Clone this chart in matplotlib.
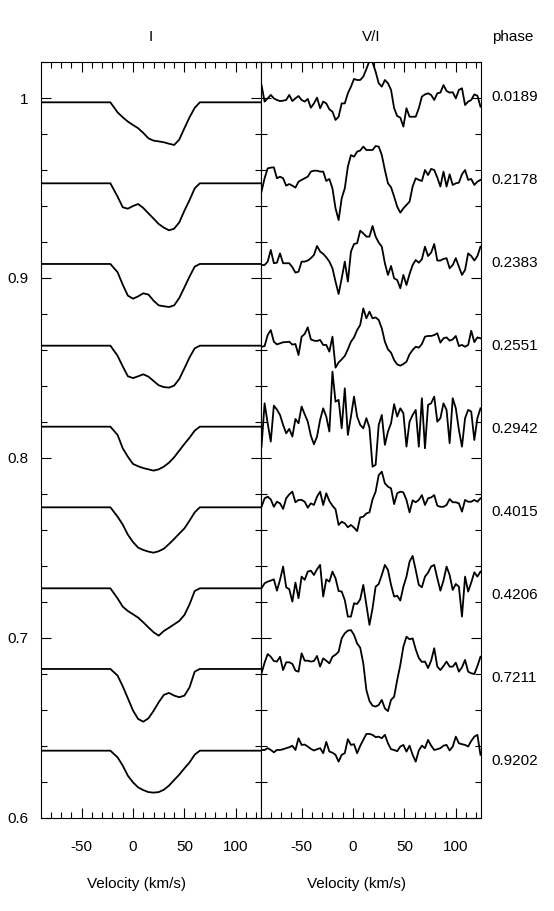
import numpy as np
import matplotlib
matplotlib.use("Agg")
import matplotlib.pyplot as plt
from matplotlib.ticker import MultipleLocator, FuncFormatter

plt.rcParams['font.family'] = ['Liberation Sans', 'DejaVu Sans']
plt.rcParams['font.size'] = 11
plt.rcParams['axes.unicode_minus'] = False

phases = ['0.0189', '0.2178', '0.2383', '0.2551', '0.2942',
          '0.4015', '0.4206', '0.7211', '0.9202']

# continuum level of each stacked profile
i_offset = [0.9976, 0.9526, 0.9078, 0.8624, 0.8174, 0.7726, 0.7276, 0.6828, 0.6374]
vi_offset = [0.9989, 0.9539, 0.9091, 0.8637, 0.8193, 0.7748, 0.7304, 0.6850, 0.6382]

# Stokes I profiles (I/Ic)
v_i = [-89, -60, -30, -22, -15, -10, -5, 0, 5, 10, 15, 20,
       25, 30, 35, 40, 45, 50, 55, 60, 65, 90, 124]
i_0189 = [1, 1, 1, 1, .9944, .9917, .9893, .9874, .9856, .9830, .9800, .9787,
          .9783, .9778, .9770, .9763, .9793, .9856, .9917, .9969, 1, 1, 1]
i_2178 = [1, 1, 1, 1, .9926, .9867, .9859, .9874, .9885, .9863, .9833, .9804,
          .9774, .9754, .9739, .9748, .9783, .9848, .9907, .9972, 1, 1, 1]
i_2383 = [1, 1, 1, 1, .9954, .9885, .9824, .9807, .9820, .9837, .9830, .9796,
          .9770, .9765, .9761, .9770, .9811, .9870, .9930, .9985, 1, 1, 1]
i_2551 = [1, 1, 1, 1, .9944, .9885, .9830, .9820, .9830, .9841, .9828, .9804,
          .9780, .9770, .9767, .9778, .9815, .9874, .9935, .9985, 1, 1, 1]
i_2942 = [1, 1, 1, 1, .9954, .9880, .9833, .9793, .9780, .9770, .9763, .9756,
          .9763, .9778, .9800, .9830, .9867, .9904, .9939, .9978, 1, 1, 1]
i_4015 = [1, 1, 1, 1, .9948, .9904, .9848, .9807, .9776, .9763, .9754, .9748,
          .9756, .9770, .9796, .9824, .9854, .9883, .9926, .9972, 1, 1, 1]
i_4206 = [1, 1, 1, 1, .9944, .9898, .9874, .9856, .9837, .9811, .9783, .9756,
          .9737, .9763, .9781, .9800, .9819, .9852, .9911, .9985, 1, 1, 1]
i_7211 = [1, 1, 1, 1, .9963, .9904, .9837, .9769, .9722, .9707, .9726, .9767,
          .9815, .9856, .9867, .9852, .9843, .9852, .9898, .9985, 1, 1, 1]
i_9202 = [1, 1, 1, 1, .9963, .9917, .9861, .9824, .9796, .9781, .9770, .9767,
          .9770, .9783, .9806, .9837, .9867, .9902, .9935, .9978, 1, 1, 1]

# Stokes V/I profiles, units of 1e-3, on a 3 km/s grid from -89 to 124
v_vi = np.arange(-89, 125, 3)
vi_0189 = [8.3, -0.9, 0.9, 2.8, 0.9, 0, -0.6, -0.4, 0, 2.8, -0.6, 0.9,
           2.2, 0, -0.9, 0.6, -4.3, -1.9, 1.3, -4.6, -0.9, -1.9, -5.2, -6.5,
           -11.1, -9.3, -1.9, -1.9, 3.7, 7.4, 11.7, 11.1, 11.1, 13.0, 17.2, 21.7,
           20.9, 15.7, 9.3, 7.4, 11.1, 9.3, 5.6, -4.6, -8.9, -9.8, -14.8, -4.6,
           -9.3, -9.3, -9.3, -4.6, 1.9, 3.1, 3.7, 2.8, 0, 3.7, 4.1, 8.3,
           5.0, 4.1, 4.3, 0.9, 5.6, 6.5, -2.8, -0.9, 0, 3.1, 2.4, -3.7]
vi_2178 = [-5.9, 1.5, 7.0, 7.4, 7.6, 1.5, 2.4, 1.5, -2.6, -1.7, -2.6, -3.7,
           -0.4, 0.6, 1.5, 2.4, 5.2, 5.7, 5.7, 5.2, 5.2, 0, 1.1, -4.1,
           -15.2, -21.7, -9.6, -4.1, 8.0, 14.4, 13.5, 16.3, 16.9, 19.1, 17.2, 17.2,
           17.2, 19.4, 19.1, 14.4, 6.1, -1.3, -3.5, -8.7, -14.3, -17.6, -15.2, -13.3,
           -11.5, -3.1, 1.5, 0.6, 0, 6.1, 3.3, 6.7, 6.1, 1.9, -3.1, 5.2,
           -3.1, 3.7, -2.2, -1.3, -0.9, 3.7, 6.1, 0.6, 1.1, -2.2, -0.4, 0.6]
vi_2383 = [-1.9, -1.9, 0, 6.5, -0.9, -0.6, 4.6, -0.9, -0.9, -0.9, -3.1, -6.1,
           -5.6, 0, 0, 0.6, 1.9, 3.7, 8.7, 5.6, 4.3, 2.4, 0, -3.7,
           -11.1, -18.0, -9.3, 0, -11.1, 5.6, 9.8, 10.2, 17.2, 15.7, 13.9, 13.9,
           19.8, 13.9, 10.6, 8.3, -0.9, -7.4, -2.4, -9.3, -10.2, -14.8, -7.4, -13.0,
           -6.9, -1.9, 0.9, -0.6, 1.3, 8.3, 3.1, 5.0, 9.8, 0.6, 0.6, 1.5,
           1.9, -3.7, -1.9, 1.9, -2.8, -7.4, -4.6, 4.6, 3.1, 0.6, 3.1, 8.3]
vi_2551 = [-1.9, -1.5, 4.6, 7.4, 0.9, -0.6, 0, 0.6, 0.7, 0.9, -0.7, -0.4,
           -6.5, 3.7, 5.2, 8.9, 2.2, 1.5, 1.3, 1.9, -0.9, -0.9, -4.6, 3.7,
           -13.5, -10.6, -8.9, -7.0, -3.3, 0.9, 3.3, 7.4, 10.2, 19.4, 13.9, 17.6,
           13.9, 14.4, 13.0, 8.3, 0.9, -3.3, -5.2, -9.3, -11.7, -12.4, -11.5, -10.2,
           -6.1, -3.7, -1.9, -2.4, -0.4, 3.7, 4.1, 4.1, 4.6, 5.6, 0.4, 2.8,
           3.3, 1.5, 2.2, 4.1, -1.5, -0.9, -1.9, -0.9, 7.0, 0.7, 3.3, 2.8]
vi_2942 = [-13.0, 11.1, 0, -10.2, 9.8, 7.6, 4.6, -0.9, -5.6, -3.1, -7.4, 2.4,
           0, 9.3, 5.0, 0.9, -6.9, -11.7, -7.4, 1.9, 8.3, 3.7, -4.6, 28.7,
           12.0, 13.0, -2.8, 19.4, -6.5, 3.7, 14.8, 3.7, -0.9, -2.8, 2.8, -2.4,
           -24.1, -23.1, -0.9, 4.6, -12.0, -4.6, 0, 10.6, 3.7, 8.3, 5.6, -13.0,
           0.9, 4.6, 7.4, -13.0, 13.9, -13.9, 10.2, 11.1, 14.8, 0.9, 2.8, 11.1,
           7.4, -11.1, 13.9, 8.3, -3.7, -13.0, 2.8, 7.4, 6.5, -9.3, 2.8, 8.3]
vi_4015 = [-1.9, 2.8, 3.7, 2.2, -1.9, 0.9, 0, -3.1, 2.8, 5.0, 6.5, 0.6,
           1.9, 1.9, 0.9, -2.4, 0, -0.9, 3.7, 6.5, -0.9, 5.6, 1.3, -1.3,
           -3.3, -12.0, -10.2, -11.1, -13.3, -12.0, -13.5, -15.4, -7.8, -7.4, -5.6, -5.0,
           2.2, 6.5, 15.7, 17.6, 11.1, 9.3, 8.3, -0.4, 5.6, 6.5, 6.1, 1.9,
           -5.0, 1.7, 0.6, 1.9, 4.6, -0.9, 2.8, 3.3, 4.6, -1.3, -1.9, -1.9,
           -0.9, 2.4, 0.6, 0.6, 0, -4.6, 1.9, 0.9, 0.9, 1.9, 0.9, 2.8]
vi_4206 = [-2.8, 0, 0.9, 1.5, 2.2, -4.1, 1.9, 9.3, -2.2, -3.3, -10.2, 0.4,
           -8.3, 3.7, 1.9, 6.5, 7.0, 4.6, 7.8, 10.2, -7.4, 2.2, 0.9, 6.5,
           2.8, -4.3, -4.6, -9.3, -18.5, -18.5, -11.1, -11.5, -8.9, -0.9, -12.0, -23.1,
           -13.9, -1.9, -0.4, 4.6, 10.2, 7.4, -0.9, -7.4, -6.9, -9.6, -1.9, 3.7,
           12.0, 15.2, 7.4, -0.9, -2.2, 3.7, 5.9, 9.3, 10.2, 2.8, -4.1, 1.5,
           9.3, 4.6, -3.7, -0.4, -1.9, -18.5, 3.7, -4.6, 0.4, 6.1, 3.7, 6.5]
vi_7211 = [-4.6, 1.3, 6.1, 4.6, 2.2, 1.9, 4.6, -2.8, 1.5, 1.5, 0.6, -3.1,
           -3.7, 6.5, 2.4, 2.4, 1.9, 2.2, 5.0, -0.9, 3.7, 2.4, 0.9, 4.6,
           5.7, 7.4, 14.8, 17.6, 19.1, 19.4, 16.7, 12.0, 9.6, 0.9, -13.9, -20.0,
           -22.6, -23.1, -22.2, -19.4, -24.1, -25.6, -19.4, -17.6, -8.3, 0, 10.2, 15.7,
           14.3, 14.8, 8.7, 3.9, 1.7, 1.9, -1.7, 2.4, 9.3, -0.9, -2.8, -0.6,
           1.9, -0.9, -0.9, 1.3, -3.7, -1.3, 2.8, -3.7, -4.6, -5.0, -0.6, 4.6]
vi_9202 = [-0.4, -0.4, 0.6, -0.4, -1.7, -0.4, -0.4, 0, 0.6, 1.1, 1.9, -0.4,
           6.1, 2.4, 2.6, 1.5, 0.2, -0.7, 0, 0.6, -2.2, 4.1, -1.3, -1.9,
           -3.1, -6.9, -3.1, -2.2, 5.6, 2.4, 2.8, -2.2, 1.9, 5.2, 8.5, 8.5,
           8.0, 6.7, 7.0, 6.1, 8.0, 3.3, 0, -0.4, -1.1, 1.5, 2.4, -1.3,
           2.0, -3.1, -6.9, -0.7, 2.0, 0.6, 5.2, 2.0, -0.4, 0, 0.6, 2.0,
           2.4, -0.7, 1.5, 7.0, 3.3, 2.8, 2.4, 1.5, 4.6, 7.0, 8.0, -3.1]

i_profiles = [i_0189, i_2178, i_2383, i_2551, i_2942, i_4015, i_4206, i_7211, i_9202]
vi_profiles = [vi_0189, vi_2178, vi_2383, vi_2551, vi_2942, vi_4015, vi_4206, vi_7211, vi_9202]

fig = plt.figure(figsize=(5.54, 9.11), dpi=100)
axI = fig.add_axes([41/554, 93/911, 220/554, 756/911])
axV = fig.add_axes([261/554, 93/911, 220/554, 756/911])

for off, prof in zip(i_offset, i_profiles):
    axI.plot(v_i, off + (np.array(prof) - 1), 'k', lw=1.3)
for off, prof in zip(vi_offset, vi_profiles):
    axV.plot(v_vi, off + np.array(prof) * 1e-3, 'k', lw=1.3)

for ax in (axI, axV):
    ax.set_xlim(-89.5, 124.5)
    ax.set_ylim(0.6, 1.02)
    ax.xaxis.set_major_locator(MultipleLocator(50))
    ax.xaxis.set_minor_locator(MultipleLocator(10))
    ax.yaxis.set_major_locator(MultipleLocator(0.1))
    ax.yaxis.set_minor_locator(MultipleLocator(0.02))
    ax.tick_params(which='both', direction='in', top=True, right=True, width=0.8)
    ax.tick_params(which='major', length=7, pad=16)
    ax.tick_params(which='minor', length=4)
    ax.tick_params(axis='y', which='major', pad=9)
    for s in ax.spines.values():
        s.set_linewidth(0.8)
    ax.set_xlabel('Velocity (km/s)')
    ax.xaxis.set_label_coords(0.432, -0.078)

axI.yaxis.set_major_formatter(FuncFormatter(lambda y, _: f'{y:g}'))
axV.tick_params(labelleft=False)

fig.text(151/554, 1 - 37/911, 'I', ha='center', va='center')
fig.text(371/554, 1 - 37/911, 'V/I', ha='center', va='center')
fig.text(513/554, 1 - 37/911, 'phase', ha='center', va='center')

# phase labels next to each profile
for k, ph in enumerate(phases):
    axV.text(1.049, 1.0006 - 0.0461 * k, ph, transform=axV.get_yaxis_transform(),
             ha='left', va='center')

fig.savefig('out.png', dpi=100)
